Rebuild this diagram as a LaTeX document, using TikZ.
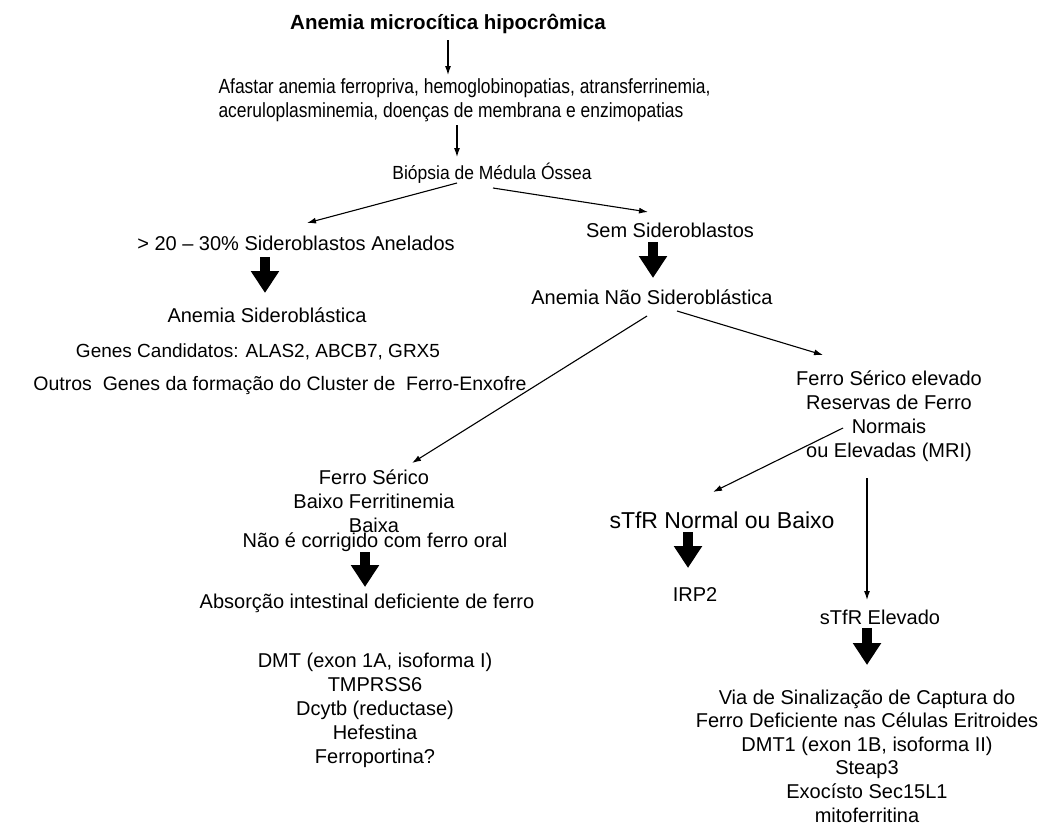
\documentclass[tikz,border=0pt]{standalone}
\usepackage{fontspec}
\setmainfont{Liberation Sans}
\newfontfamily\narrowfont[FakeStretch=0.85]{Liberation Sans}
\newfontfamily\semifont[FakeStretch=0.92]{Liberation Sans}
\usetikzlibrary{arrows.meta,calc}

\begin{document}
\begin{tikzpicture}[x=1pt,y=-1pt,>={Latex[length=9pt,width=6pt]},line width=1.1pt,
	every node/.style={inner sep=0pt,align=center,font=\fontsize{20}{24}\selectfont},
	fat/.style={line width=10pt,-{Triangle[length=22pt,width=27pt]}}]
	\useasboundingbox (0,0) rectangle (1041,825);

	\node (MIC) at (448,24) [font=\fontsize{20.5}{24}\selectfont\bfseries] {Anemia microcítica hipocrômica};
	\node (AFAS) at (218,100) [anchor=west,align=left,font=\narrowfont\fontsize{20.5}{24.5}\selectfont] {Afastar anemia ferropriva, hemoglobinopatias, atransferrinemia,\\aceruloplasminemia, doenças de membrana e enzimopatias};
	\node (BIO) at (492,173) [font=\semifont\fontsize{19}{24}\selectfont] {Biópsia de Médula Óssea};

	\node (ANEL)   at (296,243) {> 20 – 30\% Sideroblastos Anelados};
	\node (SIDERO) at (267,315) {Anemia Sideroblástica};
	\node (GENES)  at (258,352) [font=\fontsize{19}{24}\selectfont] {Genes Candidatos: ALAS2, ABCB7, GRX5};
	\node (OUTROS) at (280,385) [font=\fontsize{19.5}{24}\selectfont] {Outros\ \ Genes da formação do Cluster de\ \ Ferro-Enxofre};

	\node (SEM)    at (670,230) {Sem Sideroblastos};
	\node (NAOSID) at (652,297) {Anemia Não Sideroblástica};

	\node (BAIXO) at (374,501) {Ferro Sérico\\Baixo Ferritinemia\\Baixa};
	\node (ORAL)  at (375,542) {Não é corrigido com ferro oral};
	\node (ABS)   at (367,603) {Absorção intestinal deficiente de ferro};
	\node (DMT)   at (375,710) {DMT (exon 1A, isoforma I)\\TMPRSS6\\Dcytb (reductase)\\Hefestina\\Ferroportina?};

	\node (ELEV)  at (889,416) {Ferro Sérico elevado\\Reservas de Ferro\\Normais\\ou Elevadas (MRI)};
	\node (NORM)  at (722,520) [font=\fontsize{23}{24}\selectfont] {sTfR Normal ou Baixo};
	\node (IRP)   at (695,595) {IRP2};
	\node (STFR)  at (880,617) {sTfR Elevado};
	\node (VIA)   at (867,756) [font=\fontsize{20}{23.6}\selectfont] {Via de Sinalização de Captura do\\Ferro Deficiente nas Células Eritroides\\DMT1 (exon 1B, isoforma II)\\Steap3\\Exocísto Sec15L1\\mitoferritina};

	% thin arrows
	\path[->] ($(MIC)+(0,16)$)        edge ($(AFAS.west)+(230,-25)$)
	          ($(AFAS.west)+(239,25)$) edge ($(BIO)+(-35,-16)$)
	          ($(BIO)+(-35,10)$)       edge ($(ANEL)+(11,-20)$)
	          ($(BIO)+(1,15)$)         edge ($(SEM)+(-22,-18)$)
	          ($(NAOSID)+(-5,19)$)     edge ($(BAIXO)+(38,-38)$)
	          ($(NAOSID)+(25,14)$)     edge ($(ELEV)+(-66,-61)$)
	          ($(ELEV)+(-46,12)$)      edge ($(NORM)+(-9,-28)$)
	          ($(ELEV)+(-22,62)$)      edge ($(STFR)+(-13,-17)$);

	% thick arrows
	\path[fat] ($(ANEL)+(-31,14)$)   edge ($(SIDERO)+(-2,-22)$)
	           ($(SEM)+(-17,12)$)    edge ($(NAOSID)+(1,-19)$)
	           ($(ORAL)+(-10,10)$)   edge ($(ABS)+(-2,-16)$)
	           ($(NORM)+(-34,12)$)   edge ($(IRP)+(-7,-27)$)
	           ($(STFR)+(-13,11)$)   edge ($(VIA)+(0,-91)$);
\end{tikzpicture}
\end{document}
